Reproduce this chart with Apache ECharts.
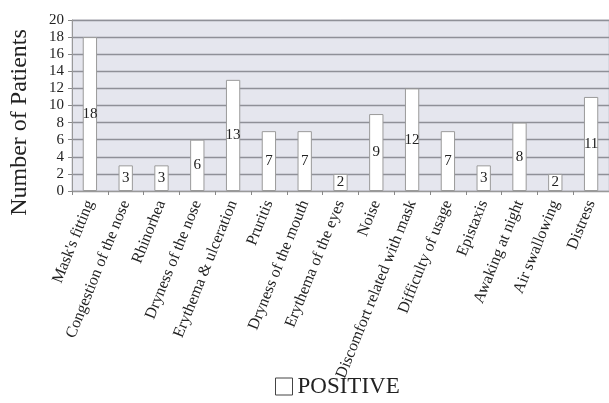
<!DOCTYPE html>
<html lang="en">
<head>
    <meta charset="UTF-8">
    <title>Mask complications</title>
    <script src="https://cdn.jsdelivr.net/npm/echarts@6/dist/echarts.min.js"></script>
</head>
<body style="margin:0;background:#fff;">
<div id="chart" style="width:609px;height:403px;"></div>
<script type="text/javascript">
    // data
    var categories = ['Mask\'s fitting', 'Congestion of the nose', 'Rhinorhea', 'Dryness of the nose',
        'Erythema & ulceration', 'Pruritis', 'Dryness of the mouth', 'Erythema of the eyes', 'Noise',
        'Discomfort related with mask', 'Difficulty of usage', 'Epistaxis', 'Awaking at night',
        'Air swallowing', 'Distress'];
    var positive = [18, 3, 3, 6, 13, 7, 7, 2, 9, 12, 7, 3, 8, 2, 11];
    var yTicks = [0, 2, 4, 6, 8, 10, 12, 14, 16, 18, 20];

    var serif = '"Liberation Serif", "DejaVu Serif", serif';
    var myChart = echarts.init(document.getElementById('chart'));

    var option = {
        animation: false,
        textStyle: {fontFamily: serif},
        grid: {
            top: 20,
            left: 66,
            right: 0,
            bottom: 212,
            show: true,
            backgroundColor: '#e5e6ee',
            borderColor: '#c8c9d2',
            borderWidth: 1
        },
        legend: {
            bottom: 0,
            left: 270,
            itemWidth: 17,
            itemHeight: 17,
            itemGap: 8,
            textStyle: {fontFamily: serif, fontSize: 23, color: '#222'},
            data: [{name: 'POSITIVE', icon: 'rect', itemStyle: {borderColor: '#444', borderWidth: 1}}]
        },
        xAxis: {
            type: 'category',
            data: categories,
            axisTick: {show: true, length: 4, lineStyle: {color: '#888'}},
            axisLine: {lineStyle: {color: '#999'}},
            axisLabel: {
                interval: 0,
                rotate: 68,
                margin: 10,
                fontFamily: serif,
                fontSize: 16,
                color: '#222'
            }
        },
        yAxis: {
            type: 'value',
            min: 0,
            max: 20,
            interval: 2,
            name: 'Number of Patients',
            nameLocation: 'middle',
            nameGap: 40,
            nameTextStyle: {fontFamily: serif, fontSize: 24, color: '#222', padding: [0, 34, 0, 0]},
            axisLine: {show: true, lineStyle: {color: '#999'}},
            axisTick: {show: true, length: 4, lineStyle: {color: '#888'}},
            axisLabel: {
                fontFamily: serif,
                fontSize: 15,
                color: '#222',
                margin: 8,
                formatter: function (v) {
                    return yTicks.indexOf(v) >= 0 ? String(v) : '';
                }
            },
            splitLine: {lineStyle: {color: '#8f9098', width: 1.3}}
        },
        series: [{
            name: 'POSITIVE',
            type: 'bar',
            data: positive,
            barWidth: '40%',
            itemStyle: {color: '#ffffff', borderColor: '#9a9a9a', borderWidth: 1},
            label: {
                show: true,
                position: 'inside',
                fontFamily: serif,
                fontSize: 15,
                color: '#222'
            }
        }]
    };
    myChart.setOption(option, true);
</script>
</body>
</html>
